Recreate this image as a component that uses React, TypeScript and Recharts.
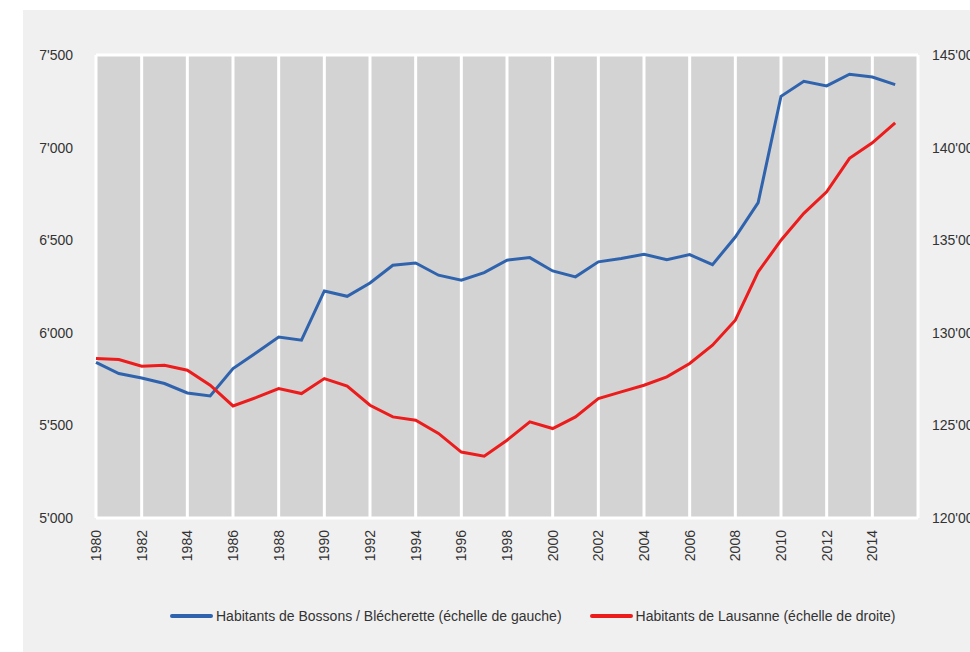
import { LineChart, Line, XAxis, YAxis, CartesianGrid } from "recharts";

// years 1980 - 2015
const years = [
    1980, 1981, 1982, 1983, 1984, 1985, 1986, 1987, 1988, 1989, 1990, 1991, 1992, 1993, 1994, 1995, 1996, 1997,
    1998, 1999, 2000, 2001, 2002, 2003, 2004, 2005, 2006, 2007, 2008, 2009, 2010, 2011, 2012, 2013, 2014, 2015,
];

// left scale
const bossons = [
    5840, 5780, 5756, 5726, 5675, 5659, 5807, 5891, 5977, 5960, 6226, 6197, 6269, 6365, 6377, 6311, 6284, 6325,
    6392, 6406, 6334, 6302, 6383, 6401, 6424, 6395, 6422, 6368, 6517, 6703, 7277, 7358, 7333, 7396, 7381, 7340,
];

// right scale
const lausanne = [
    128610, 128560, 128200, 128250, 127980, 127170, 126050, 126500, 126990, 126720, 127530, 127120, 126090, 125460,
    125280, 124570, 123560, 123340, 124200, 125190, 124830, 125460, 126450, 126810, 127170, 127620, 128340, 129330,
    130680, 133290, 135000, 136450, 137610, 139420, 140260, 141340,
];

const xTicks = [
    1980, 1982, 1984, 1986, 1988, 1990, 1992, 1994, 1996, 1998, 2000, 2002, 2004, 2006, 2008, 2010, 2012, 2014, 2016,
];
const leftTicks = [5000, 5500, 6000, 6500, 7000, 7500];
const rightTicks = [120000, 125000, 130000, 135000, 140000, 145000];

const seriesNames = [
    "Habitants de Bossons / Blécherette (échelle de gauche)",
    "Habitants de Lausanne (échelle de droite)",
];
const seriesColors = ["#2f63ad", "#ec1c1c"];

const data = years.map((year, i) => ({ year, bossons: bossons[i], lausanne: lausanne[i] }));

const fmt = (v: number) => String(v).replace(/\B(?=(\d{3})+(?!\d))/g, "'");

const FONT = "'Liberation Sans', Arial, sans-serif";
const TEXT_COLOR = "#333333";

const YearTick = (props: any) => {
    const { x, y, payload } = props;
    if (payload.value === 2016) return null; // only used for the grid edge
    return (
        <text
            x={x}
            y={y}
            transform={`rotate(-90, ${x}, ${y})`}
            textAnchor="end"
            dominantBaseline="central"
            fontSize={14}
            fontFamily={FONT}
            fill={TEXT_COLOR}
        >
            {payload.value}
        </text>
    );
};

const App = () => {
    return (
        <div style={{ position: "absolute", left: 0, top: 0, width: 970, height: 652, overflow: "hidden", background: "#fff" }}>
            <div style={{ position: "absolute", left: 23, top: 10, width: 947, height: 642, background: "#f0f0f0" }} />
            <div style={{ position: "absolute", left: 0, top: 0 }}>
                <LineChart width={970} height={652} data={data} margin={{ top: 55, right: 0, bottom: 54, left: 0 }}>
                    <CartesianGrid fill="#d3d3d3" stroke="#ffffff" strokeWidth={3} />
                    <XAxis
                        dataKey="year"
                        type="number"
                        domain={[1980, 2016]}
                        ticks={xTicks}
                        interval={0}
                        height={80}
                        tick={<YearTick />}
                        tickSize={0}
                        tickMargin={12}
                        axisLine={false}
                        tickLine={false}
                    />
                    <YAxis
                        yAxisId="left"
                        domain={[5000, 7500]}
                        ticks={leftTicks}
                        tickFormatter={fmt}
                        width={96}
                        tickSize={0}
                        tickMargin={23}
                        axisLine={false}
                        tickLine={false}
                        tick={{ fontSize: 14, fontFamily: FONT, fill: TEXT_COLOR }}
                    />
                    <YAxis
                        yAxisId="right"
                        orientation="right"
                        domain={[120000, 145000]}
                        ticks={rightTicks}
                        tickFormatter={fmt}
                        width={52}
                        tickSize={0}
                        tickMargin={14}
                        axisLine={false}
                        tickLine={false}
                        tick={{ fontSize: 14, fontFamily: FONT, fill: TEXT_COLOR, textAnchor: "start" }}
                    />
                    <Line
                        yAxisId="left"
                        type="linear"
                        dataKey="bossons"
                        name={seriesNames[0]}
                        stroke={seriesColors[0]}
                        strokeWidth={3}
                        dot={false}
                        isAnimationActive={false}
                    />
                    <Line
                        yAxisId="right"
                        type="linear"
                        dataKey="lausanne"
                        name={seriesNames[1]}
                        stroke={seriesColors[1]}
                        strokeWidth={3}
                        dot={false}
                        isAnimationActive={false}
                    />
                </LineChart>
            </div>
            <div
                style={{
                    position: "absolute",
                    left: 170,
                    top: 608,
                    display: "flex",
                    alignItems: "center",
                    fontFamily: FONT,
                    fontSize: 14,
                    color: TEXT_COLOR,
                    whiteSpace: "nowrap",
                }}
            >
                {seriesNames.map((name, i) => (
                    <div key={name} style={{ display: "flex", alignItems: "center", marginRight: 28 }}>
                        <span style={{ display: "inline-block", width: 43, height: 4, borderRadius: 2, background: seriesColors[i], marginRight: 3 }} />
                        <span>{name}</span>
                    </div>
                ))}
            </div>
        </div>
    );
};

export default App;
